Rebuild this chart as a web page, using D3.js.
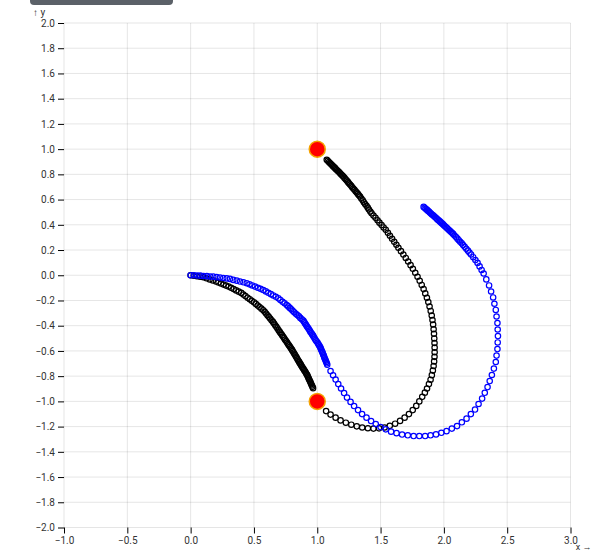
<!DOCTYPE html>
<html>
<head>
<meta charset="utf-8">
<script src="https://cdn.jsdelivr.net/npm/d3@7"></script>
<style>
  html, body { margin: 0; padding: 0; background: #fff; }
  svg { display: block; font-family: Roboto, "Liberation Sans", sans-serif; }
</style>
</head>
<body>
<svg id="chart" width="592" height="551"></svg>
<script>
// ---- data ----
const xTicks = [-1, -0.5, 0, 0.5, 1, 1.5, 2, 2.5, 3];
const yTicks = [-2, -1.8, -1.6, -1.4, -1.2, -1, -0.8, -0.6, -0.4, -0.2, 0, 0.2, 0.4, 0.6, 0.8, 1, 1.2, 1.4, 1.6, 1.8, 2];
const xLabel = "x →";
const yLabel = "↑ y";

const redPoints = [[1, 1], [1, -1]];

const blackA = [
[0,0],[0.025,-0.004],[0.05,-0.008],[0.075,-0.011],
[0.1,-0.015],[0.125,-0.024],[0.15,-0.033],[0.175,-0.041],
[0.2,-0.05],[0.22,-0.058],[0.24,-0.066],[0.26,-0.074],[0.28,-0.082],
[0.3,-0.09],[0.32,-0.1],[0.34,-0.11],[0.36,-0.12],[0.38,-0.13],
[0.4,-0.14],[0.417,-0.153],[0.433,-0.165],[0.45,-0.178],[0.467,-0.19],[0.483,-0.203],
[0.5,-0.215],[0.515,-0.227],[0.53,-0.24],[0.544,-0.252],[0.559,-0.265],
[0.574,-0.277],[0.585,-0.29],[0.596,-0.304],[0.607,-0.317],[0.617,-0.33],[0.628,-0.343],[0.639,-0.357],
[0.65,-0.37],[0.659,-0.383],[0.668,-0.396],[0.677,-0.409],[0.686,-0.422],[0.695,-0.436],[0.704,-0.449],[0.713,-0.462],[0.722,-0.475],
[0.731,-0.488],[0.739,-0.499],[0.746,-0.511],[0.754,-0.522],[0.762,-0.533],[0.769,-0.545],[0.777,-0.556],[0.785,-0.567],[0.792,-0.579],
[0.8,-0.59],[0.806,-0.601],[0.813,-0.612],[0.819,-0.622],[0.825,-0.633],[0.832,-0.644],[0.838,-0.655],[0.844,-0.666],[0.85,-0.676],[0.857,-0.687],
[0.863,-0.698],[0.869,-0.707],[0.874,-0.716],[0.88,-0.726],[0.886,-0.735],[0.892,-0.744],[0.897,-0.753],[0.903,-0.762],[0.909,-0.772],[0.914,-0.781],
[0.92,-0.79],[0.925,-0.801],[0.929,-0.811],[0.934,-0.822],[0.939,-0.832],[0.944,-0.843],[0.948,-0.853],[0.953,-0.864],[0.958,-0.874],[0.962,-0.885],[0.967,-0.895]
];

const blackB = [
[1.070,-1.077],[1.105,-1.105],[1.145,-1.129],[1.184,-1.151],[1.226,-1.169],[1.269,-1.185],[1.312,-1.198],[1.355,-1.207],
[1.400,-1.213],[1.444,-1.216],[1.488,-1.214],[1.532,-1.207],[1.573,-1.194],[1.615,-1.177],[1.654,-1.155],[1.690,-1.129],
[1.724,-1.101],[1.754,-1.069],[1.782,-1.036],[1.806,-1.000],[1.829,-0.964],[1.850,-0.931],[1.867,-0.898],[1.882,-0.863],
[1.895,-0.828],[1.905,-0.792],[1.913,-0.756],[1.919,-0.720],[1.923,-0.683],[1.926,-0.647],[1.927,-0.610],[1.927,-0.574],
[1.926,-0.537],[1.924,-0.501],[1.922,-0.464],[1.919,-0.428],[1.915,-0.391],[1.910,-0.355],[1.904,-0.319],[1.896,-0.283],
[1.887,-0.248],[1.877,-0.213],[1.866,-0.179],[1.853,-0.144],[1.840,-0.110],[1.825,-0.077],[1.809,-0.044],[1.792,-0.012],
[1.774,0.020],[1.755,0.051],[1.737,0.080],[1.718,0.109],[1.699,0.137],[1.680,0.164],[1.661,0.191],[1.641,0.218],
[1.625,0.242],[1.608,0.265],[1.591,0.289],[1.574,0.313],[1.558,0.336],[1.541,0.360],[1.524,0.379],[1.508,0.398],
[1.491,0.417],[1.476,0.436],[1.460,0.455],[1.444,0.473],[1.429,0.491],[1.419,0.506],[1.408,0.521],[1.399,0.536],
[1.389,0.551],[1.378,0.565],[1.368,0.579],[1.359,0.594],[1.348,0.609],[1.338,0.624],[1.329,0.634],[1.321,0.645],
[1.312,0.656],[1.303,0.666],[1.294,0.677],[1.285,0.687],[1.276,0.698],[1.268,0.709],[1.259,0.719],[1.250,0.729],
[1.242,0.740],[1.233,0.751],[1.224,0.761],[1.215,0.772],[1.206,0.783],[1.198,0.790],[1.190,0.799],[1.182,0.807],
[1.174,0.816],[1.165,0.824],[1.157,0.833],[1.148,0.840],[1.141,0.849],[1.133,0.857],[1.124,0.865],[1.116,0.874],
[1.108,0.882],[1.100,0.890],[1.092,0.898],[1.083,0.907],[1.075,0.915]
];

const blueA = [
[0,0],[0.026,0],[0.052,-0.002],[0.077,-0.003],[0.103,-0.006],[0.128,-0.007],[0.154,-0.010],[0.179,-0.011],
[0.205,-0.015],[0.232,-0.018],[0.258,-0.022],[0.285,-0.025],[0.311,-0.029],[0.337,-0.037],[0.364,-0.043],[0.390,-0.050],
[0.417,-0.056],[0.443,-0.063],[0.465,-0.072],[0.487,-0.081],[0.509,-0.090],[0.531,-0.099],[0.552,-0.108],[0.574,-0.117],
[0.594,-0.128],[0.614,-0.139],[0.634,-0.150],[0.653,-0.160],[0.673,-0.171],[0.693,-0.183],[0.709,-0.196],[0.726,-0.210],
[0.742,-0.222],[0.759,-0.236],[0.771,-0.247],[0.783,-0.259],[0.795,-0.270],[0.806,-0.281],[0.818,-0.293],[0.831,-0.305],
[0.843,-0.316],[0.855,-0.326],[0.866,-0.338],[0.878,-0.349],[0.890,-0.360],[0.897,-0.371],[0.904,-0.382],[0.911,-0.393],
[0.918,-0.404],[0.925,-0.414],[0.932,-0.425],[0.939,-0.437],[0.945,-0.447],[0.953,-0.458],[0.960,-0.469],[0.967,-0.479],
[0.973,-0.490],[0.980,-0.502],[0.987,-0.513],[0.994,-0.523],[1.002,-0.534],[1.008,-0.545],[1.015,-0.556],[1.022,-0.567],
[1.026,-0.577],[1.030,-0.587],[1.034,-0.597],[1.039,-0.607],[1.043,-0.617],[1.047,-0.628],[1.051,-0.637],[1.055,-0.648],
[1.058,-0.658],[1.063,-0.668],[1.067,-0.678],[1.071,-0.688],[1.075,-0.698],[1.079,-0.709]
];

const blueB = [
[1.105,-0.760],[1.125,-0.793],[1.145,-0.827],[1.166,-0.863],[1.188,-0.898],[1.212,-0.934],[1.235,-0.970],[1.263,-1.004],
[1.291,-1.037],[1.322,-1.069],[1.354,-1.101],[1.389,-1.129],[1.425,-1.156],[1.462,-1.180],[1.500,-1.204],[1.541,-1.222],
[1.583,-1.240],[1.626,-1.252],[1.670,-1.263],[1.715,-1.269],[1.761,-1.275],[1.806,-1.275],[1.852,-1.275],[1.895,-1.269],
[1.938,-1.262],[1.980,-1.249],[2.021,-1.236],[2.063,-1.216],[2.104,-1.196],[2.142,-1.166],[2.179,-1.137],[2.213,-1.101],
[2.246,-1.065],[2.274,-1.021],[2.302,-0.978],[2.323,-0.932],[2.345,-0.887],[2.362,-0.839],[2.379,-0.791],[2.395,-0.740],
[2.410,-0.688],[2.416,-0.637],[2.423,-0.585],[2.425,-0.533],[2.427,-0.482],[2.425,-0.430],[2.423,-0.379],[2.416,-0.327],
[2.410,-0.275],[2.399,-0.226],[2.389,-0.176],[2.373,-0.129],[2.357,-0.081],[2.335,-0.033],[2.314,0.014],[2.298,0.042],
[2.282,0.070],[2.266,0.098],[2.249,0.120],[2.232,0.143],[2.215,0.165],[2.202,0.180],[2.190,0.195],[2.177,0.210],
[2.164,0.225],[2.152,0.240],[2.141,0.253],[2.129,0.265],[2.118,0.278],[2.107,0.290],[2.096,0.303],[2.084,0.315],
[2.073,0.328],[2.064,0.337],[2.055,0.344],[2.047,0.353],[2.038,0.361],[2.028,0.370],[2.020,0.378],[2.011,0.387],
[2.002,0.394],[1.994,0.403],[1.985,0.411],[1.976,0.419],[1.968,0.427],[1.959,0.435],[1.949,0.443],[1.941,0.451],
[1.932,0.459],[1.923,0.467],[1.915,0.475],[1.906,0.482],[1.898,0.490],[1.889,0.497],[1.882,0.505],[1.873,0.512],
[1.865,0.520],[1.856,0.527],[1.848,0.535],[1.840,0.542]
];

// ---- chart ----
const svg = d3.select("#chart");
const x = d3.scaleLinear().domain([-1, 3]).range([64, 570.5]);
const y = d3.scaleLinear().domain([-2, 2]).range([527.5, 23]);
const fmt = d3.format(".1f");

// top toolbar remnant
svg.append("rect")
  .attr("x", 30).attr("y", -6).attr("width", 143).attr("height", 11)
  .attr("rx", 4).attr("fill", "#5b6168");

// grid
const grid = svg.append("g").attr("stroke", "#000").attr("stroke-opacity", 0.1);
grid.selectAll("line.v").data(xTicks).join("line")
  .attr("x1", d => x(d)).attr("x2", d => x(d))
  .attr("y1", y(-2)).attr("y2", y(2));
grid.selectAll("line.h").data(yTicks).join("line")
  .attr("y1", d => y(d)).attr("y2", d => y(d))
  .attr("x1", x(-1)).attr("x2", x(3));

// axes
const yAxis = svg.append("g")
  .attr("transform", `translate(${x(-1)},0)`)
  .call(d3.axisLeft(y).tickValues(yTicks).tickFormat(fmt).tickSize(6).tickPadding(3));
const xAxis = svg.append("g")
  .attr("transform", `translate(0,${y(-2)})`)
  .call(d3.axisBottom(x).tickValues(xTicks).tickFormat(fmt).tickSize(6).tickPadding(3));
[xAxis, yAxis].forEach(g => {
  g.select(".domain").remove();
  g.attr("font-size", 10).attr("font-family", "Roboto, 'Liberation Sans', sans-serif");
  g.selectAll("text").attr("fill", "#333");
});

svg.append("text").attr("x", 33).attr("y", 16)
  .attr("font-size", 10).attr("fill", "#333").text(yLabel);
svg.append("text").attr("x", 591.5).attr("y", 549.5).attr("text-anchor", "end")
  .attr("font-size", 9).attr("fill", "#333").text(xLabel);

// dots
function dots(data, color) {
  svg.append("g")
    .attr("fill", "none").attr("stroke", color).attr("stroke-width", 1.2)
    .selectAll("circle").data(data).join("circle")
    .attr("cx", d => x(d[0])).attr("cy", d => y(d[1])).attr("r", 2.7);
}
dots(blackA, "#000");
dots(blackB, "#000");
dots(blueA, "#0000ff");
dots(blueB, "#0000ff");

svg.append("g").selectAll("circle").data(redPoints).join("circle")
  .attr("cx", d => x(d[0])).attr("cy", d => y(d[1])).attr("r", 8)
  .attr("fill", "#ff0000").attr("stroke", "#f5a300").attr("stroke-width", 1.5);
</script>
</body>
</html>
